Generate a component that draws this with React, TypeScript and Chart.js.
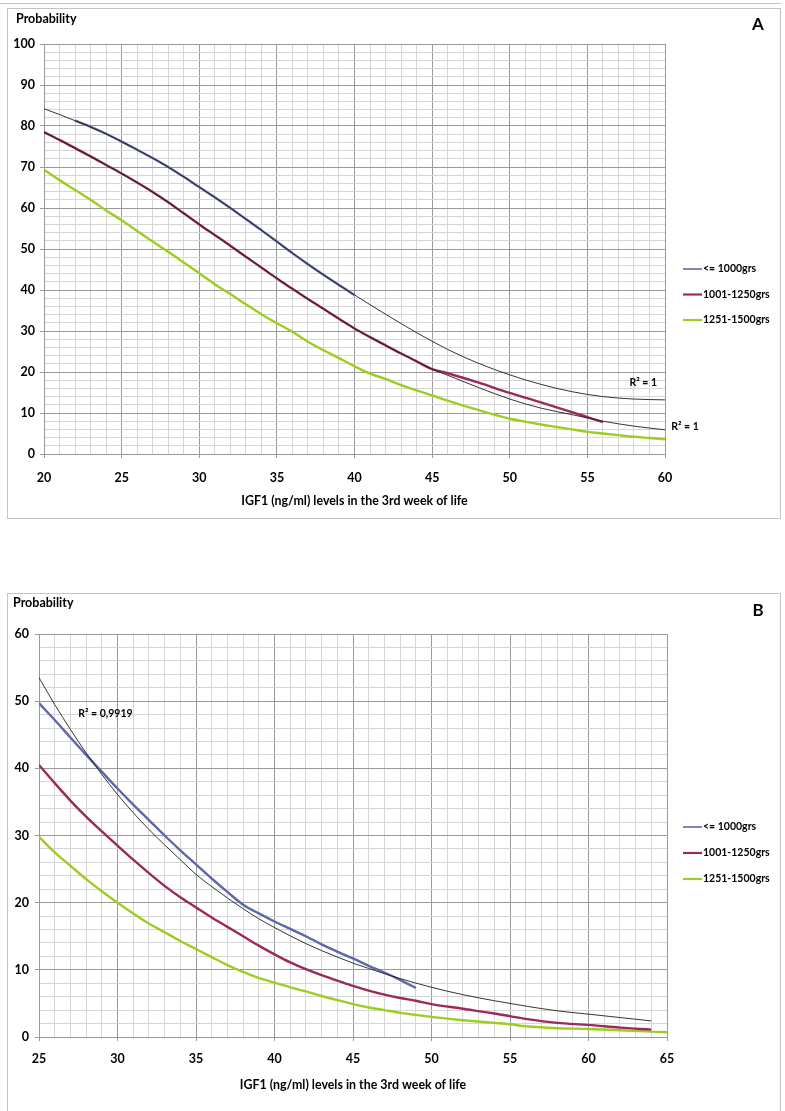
import React, { useEffect, useRef } from 'react';
import { Chart, registerables } from 'chart.js';

Chart.register(...registerables);

// ---------------- Shared ----------------
const SERIES_LABELS = ['<= 1000grs', '1001-1250grs', '1251-1500grs'];
const X_TITLE = 'IGF1 (ng/ml) levels in the 3rd week of life';
const Y_TITLE = 'Probability';

// ---------------- Panel A data ----------------
const A_X_RANGE = [20, 60];
const A_Y_RANGE = [0, 100];

const A_BLUE_X = [22, 23, 24, 25, 26, 27, 28, 29, 30, 31, 32, 33, 34, 35, 36, 37, 38, 39, 40];
const A_BLUE_Y = [81.3, 79.8, 78.1, 76.2, 74.2, 72.2, 70.0, 67.6, 65.1, 62.6, 60.0, 57.3, 54.6, 51.8, 49.0, 46.3, 43.7, 41.2, 38.8];

const A_BLUE_FIT_X = [20, 21, 22, 24, 26, 28, 30, 32, 34, 36, 38, 40, 42, 44, 46, 48, 50, 52, 54, 56, 58, 60];
const A_BLUE_FIT_Y = [84.2, 82.8, 81.3, 78.1, 74.2, 70.0, 65.1, 60.0, 54.6, 49.0, 43.7, 38.8, 34.1, 29.6, 25.5, 22.1, 19.3, 17.0, 15.2, 14.0, 13.4, 13.2];

const A_RED_X = [20, 21, 22, 23, 24, 25, 26, 27, 28, 29, 30, 31, 32, 33, 34, 35, 36, 37, 38, 39, 40, 41, 42, 43, 44, 45, 46, 48, 50, 52, 54, 55, 56];
const A_RED_Y = [78.5, 76.6, 74.6, 72.6, 70.5, 68.4, 66.2, 63.9, 61.4, 58.7, 56.0, 53.4, 50.8, 48.1, 45.5, 42.8, 40.3, 37.8, 35.4, 33.0, 30.6, 28.5, 26.5, 24.5, 22.6, 20.7, 19.7, 17.4, 14.9, 12.6, 10.2, 9.0, 7.8];

const A_RED_FIT_X = [20, 22, 24, 26, 28, 30, 32, 34, 36, 38, 40, 42, 44, 45, 46, 48, 50, 52, 54, 55, 56, 58, 60];
const A_RED_FIT_Y = [78.5, 74.6, 70.5, 66.2, 61.4, 56.0, 50.8, 45.5, 40.3, 35.4, 30.6, 26.5, 22.6, 20.7, 19.2, 16.2, 13.4, 11.2, 9.6, 8.8, 8.0, 6.8, 5.9];

const A_GREEN_X = [20, 21, 22, 23, 24, 25, 26, 27, 28, 29, 30, 31, 32, 33, 34, 35, 36, 37, 38, 39, 40, 41, 42, 43, 44, 45, 46, 47, 48, 49, 50, 51, 52, 53, 54, 55, 56, 57, 58, 59, 60];
const A_GREEN_Y = [69.3, 66.8, 64.4, 62.0, 59.4, 57.0, 54.4, 51.8, 49.3, 46.7, 44.1, 41.4, 39.0, 36.5, 34.1, 31.9, 29.8, 27.4, 25.3, 23.4, 21.4, 19.6, 18.3, 16.8, 15.5, 14.3, 13.0, 11.8, 10.7, 9.6, 8.6, 7.9, 7.2, 6.6, 6.0, 5.4, 5.0, 4.6, 4.2, 3.9, 3.6];

const A_R2_TEXT = ['R² = 1', 'R² = 1'];
const A_R2_X = [58.6, 60.4];
const A_R2_Y = [17.3, 6.6];

// ---------------- Panel B data ----------------
const B_X_RANGE = [25, 65];
const B_Y_RANGE = [0, 60];

const B_BLUE_X = [25, 26, 27, 28, 29, 30, 31, 32, 33, 34, 35, 36, 37, 38, 39, 40, 41, 42, 43, 44, 45, 46, 47, 48, 49];
const B_BLUE_Y = [49.7, 47.2, 44.6, 42.0, 39.5, 37.0, 34.6, 32.3, 30.0, 27.8, 25.7, 23.6, 21.6, 19.7, 18.4, 17.2, 16.1, 15.0, 13.8, 12.7, 11.7, 10.6, 9.6, 8.5, 7.3];

const B_BLUE_FIT_X = [25, 26, 27, 28, 29, 30, 31, 32, 33, 34, 35, 36, 37, 38, 39, 40, 42, 44, 45, 46, 48, 50, 52, 54, 55, 56, 58, 60, 62, 64];
const B_BLUE_FIT_Y = [53.5, 49.5, 45.8, 42.3, 39.1, 36.1, 33.4, 30.9, 28.6, 26.4, 24.2, 22.4, 20.7, 19.1, 17.6, 16.3, 13.9, 11.9, 11.0, 10.2, 8.7, 7.4, 6.3, 5.4, 5.0, 4.6, 3.9, 3.4, 2.9, 2.4];

const B_RED_X = [25, 26, 27, 28, 29, 30, 31, 32, 33, 34, 35, 36, 37, 38, 39, 40, 41, 42, 43, 44, 45, 46, 47, 48, 49, 50, 52, 54, 55, 56, 58, 60, 62, 64];
const B_RED_Y = [40.5, 37.8, 35.2, 32.8, 30.6, 28.5, 26.4, 24.4, 22.5, 20.8, 19.3, 17.8, 16.4, 15.0, 13.6, 12.3, 11.1, 10.1, 9.2, 8.4, 7.6, 6.9, 6.3, 5.8, 5.4, 4.9, 4.2, 3.5, 3.1, 2.7, 2.1, 1.8, 1.4, 1.1];

const B_GREEN_X = [25, 26, 27, 28, 29, 30, 31, 32, 33, 34, 35, 36, 37, 38, 39, 40, 41, 42, 43, 44, 45, 46, 47, 48, 50, 52, 54, 55, 56, 58, 60, 62, 64, 65];
const B_GREEN_Y = [29.8, 27.5, 25.5, 23.5, 21.7, 20.0, 18.4, 16.9, 15.6, 14.3, 13.1, 11.9, 10.7, 9.7, 8.8, 8.1, 7.4, 6.8, 6.1, 5.5, 4.9, 4.4, 4.0, 3.6, 3.0, 2.5, 2.1, 1.9, 1.6, 1.3, 1.2, 1.0, 0.8, 0.7];

const B_R2_TEXT = ['R² = 0,9919'];
const B_R2_X = [27.5];
const B_R2_Y = [48.1];

// ---------------- Styles ----------------
const BLUE = '#6067a9';
const RED = '#9b2a5c';
const GREEN = '#9fcc22';
const FIT = '#1e1e1e';
const MAJOR_GRID = '#9a9a9a';
const MINOR_GRID = '#d6d6d6';
const FONT = 'Lato, "Open Sans", Arial, sans-serif';

const pts = (xs: number[], ys: number[]) => xs.map((x, i) => ({ x, y: ys[i] }));

const decorPlugin = {
  id: 'decor',
  afterDraw(chart: any, _args: any, o: any) {
    const { ctx, chartArea, scales } = chart;
    ctx.save();
    ctx.fillStyle = '#000';
    ctx.textBaseline = 'middle';

    // axis title (top-left)
    ctx.font = `bold 12.5px ${FONT}`;
    ctx.textAlign = 'left';
    ctx.fillText(o.yTitle, o.yTitleX, o.yTitleY);

    // panel letter
    ctx.font = `bold 17px ${FONT}`;
    ctx.textAlign = 'center';
    ctx.fillText(o.letter, o.letterX, o.letterY);

    // x title
    ctx.font = `bold 12.4px ${FONT}`;
    ctx.textAlign = 'center';
    ctx.fillText(o.xTitle, (chartArea.left + chartArea.right) / 2, chartArea.bottom + o.xTitleGap);

    // R² labels positioned in data space
    ctx.font = `bold 10.5px ${FONT}`;
    o.r2.forEach((r: any) => {
      ctx.textAlign = r.align;
      ctx.fillText(r.text, scales.x.getPixelForValue(r.x), scales.y.getPixelForValue(r.y));
    });

    // legend
    ctx.font = `bold 10.5px ${FONT}`;
    ctx.textAlign = 'left';
    o.legend.forEach((l: any, i: number) => {
      const y = o.legendY + i * o.legendGap;
      ctx.strokeStyle = l.color;
      ctx.lineWidth = l.width;
      ctx.beginPath();
      ctx.moveTo(o.legendX, y);
      ctx.lineTo(o.legendX + 19, y);
      ctx.stroke();
      ctx.fillText(l.label, o.legendX + 20, y);
    });
    ctx.restore();
  },
};

type Series = { label: string; color: string; x: number[]; y: number[] };

function buildConfig(p: any) {
  const datasets: any[] = [];
  p.fits.forEach((f: any) => {
    datasets.push({
      label: 'fit',
      data: pts(f.x, f.y),
      borderColor: FIT,
      borderWidth: 0.9,
      pointRadius: 0,
      fill: false,
      cubicInterpolationMode: 'monotone',
      order: 0,
    });
  });
  p.series.forEach((s: Series) => {
    datasets.push({
      label: s.label,
      data: pts(s.x, s.y),
      borderColor: s.color,
      borderWidth: 2.4,
      pointRadius: 0,
      fill: false,
      cubicInterpolationMode: 'monotone',
      order: 1,
    });
  });

  const isMajor = (c: any, major: number) => c.tick && Math.abs(c.tick.value % major) < 1e-6;
  const gridColor = (major: number) => (c: any) => (isMajor(c, major) ? MAJOR_GRID : MINOR_GRID);
  const tickColor = (major: number) => (c: any) => (isMajor(c, major) ? MAJOR_GRID : 'rgba(0,0,0,0)');

  return {
    type: 'line',
    data: { datasets },
    options: {
      responsive: false,
      animation: false,
      events: [],
      layout: { padding: { left: 0, top: p.padTop, right: p.padRight, bottom: p.padBottom } },
      plugins: {
        legend: { display: false },
        tooltip: { enabled: false },
        title: { display: false },
        decor: p.decor,
      },
      scales: {
        x: {
          type: 'linear',
          min: p.xRange[0],
          max: p.xRange[1],
          afterFit: (s: any) => {
            s.height = p.xAxisH;
          },
          ticks: {
            stepSize: 1,
            maxTicksLimit: 500,
            autoSkip: false,
            maxRotation: 0,
            minRotation: 0,
            padding: p.xTickPad,
            color: '#000',
            font: { family: FONT, size: 12.5, weight: 'bold' },
            callback: (v: number) => (Math.abs(v % 5) < 1e-6 ? String(v) : ''),
          },
          grid: {
            color: gridColor(5),
            tickColor: tickColor(5),
            tickLength: 4,
            lineWidth: 1,
          },
          border: { color: MAJOR_GRID, width: 1 },
        },
        y: {
          type: 'linear',
          min: p.yRange[0],
          max: p.yRange[1],
          afterFit: (s: any) => {
            s.width = p.yAxisW;
          },
          ticks: {
            stepSize: 2,
            maxTicksLimit: 500,
            autoSkip: false,
            padding: p.yTickPad,
            color: '#000',
            font: { family: FONT, size: 12.5, weight: 'bold' },
            callback: (v: number) => (Math.abs(v % 10) < 1e-6 ? String(v) : ''),
          },
          grid: {
            color: gridColor(10),
            tickColor: tickColor(10),
            tickLength: 4,
            lineWidth: 1,
          },
          border: { color: MAJOR_GRID, width: 1 },
        },
      },
    },
    plugins: [decorPlugin],
  };
}

const legendItems = [
  { label: SERIES_LABELS[0], color: BLUE, width: 1.6 },
  { label: SERIES_LABELS[1], color: RED, width: 2.2 },
  { label: SERIES_LABELS[2], color: GREEN, width: 2.2 },
];

const PANEL_A = {
  xRange: A_X_RANGE,
  yRange: A_Y_RANGE,
  padTop: 44,
  padRight: 120,
  padBottom: 46,
  xAxisH: 40,
  yAxisW: 44,
  yTickPad: 5,
  xTickPad: 12,
  series: [
    { label: SERIES_LABELS[0], color: BLUE, x: A_BLUE_X, y: A_BLUE_Y },
    { label: SERIES_LABELS[1], color: RED, x: A_RED_X, y: A_RED_Y },
    { label: SERIES_LABELS[2], color: GREEN, x: A_GREEN_X, y: A_GREEN_Y },
  ],
  fits: [
    { x: A_BLUE_FIT_X, y: A_BLUE_FIT_Y },
    { x: A_RED_FIT_X, y: A_RED_FIT_Y },
  ],
  decor: {
    yTitle: Y_TITLE,
    yTitleX: 16,
    yTitleY: 19,
    letter: 'A',
    letterX: 758,
    letterY: 25,
    xTitle: X_TITLE,
    xTitleGap: 47,
    r2: A_R2_TEXT.map((t, i) => ({ text: t, x: A_R2_X[i], y: A_R2_Y[i], align: i === 0 ? 'center' : 'left' })),
    legend: legendItems,
    legendX: 683,
    legendY: 269,
    legendGap: 25.5,
  },
};

const PANEL_B = {
  xRange: B_X_RANGE,
  yRange: B_Y_RANGE,
  padTop: 74,
  padRight: 118,
  padBottom: 34,
  xAxisH: 40,
  yAxisW: 39,
  yTickPad: 6,
  xTickPad: 10,
  series: [
    { label: SERIES_LABELS[0], color: BLUE, x: B_BLUE_X, y: B_BLUE_Y },
    { label: SERIES_LABELS[1], color: RED, x: B_RED_X, y: B_RED_Y },
    { label: SERIES_LABELS[2], color: GREEN, x: B_GREEN_X, y: B_GREEN_Y },
  ],
  fits: [{ x: B_BLUE_FIT_X, y: B_BLUE_FIT_Y }],
  decor: {
    yTitle: Y_TITLE,
    yTitleX: 13,
    yTitleY: 43,
    letter: 'B',
    letterX: 758,
    letterY: 51,
    xTitle: X_TITLE,
    xTitleGap: 48,
    r2: B_R2_TEXT.map((t, i) => ({ text: t, x: B_R2_X[i], y: B_R2_Y[i], align: 'left' })),
    legend: legendItems,
    legendX: 683,
    legendY: 267,
    legendGap: 26,
  },
};

function ChartCanvas({ panel, top, height }: { panel: any; top: number; height: number }) {
  const ref = useRef<HTMLCanvasElement | null>(null);
  useEffect(() => {
    if (!ref.current) return;
    const chart = new Chart(ref.current, buildConfig(panel) as any);
    return () => chart.destroy();
  }, [panel]);
  return (
    <canvas
      ref={ref}
      width={785}
      height={height}
      style={{ position: 'absolute', left: 0, top, width: 785, height }}
    />
  );
}

export default function App() {
  return (
    <div
      style={{
        position: 'absolute',
        left: 0,
        top: 0,
        width: 785,
        height: 1111,
        overflow: 'hidden',
        background: '#fff',
      }}
    >
      <div style={{ position: 'absolute', left: 0, top: 3, width: 781, height: 1, background: '#c4c4c4' }} />
      <div
        style={{
          position: 'absolute',
          left: 7,
          top: 8,
          width: 772,
          height: 509,
          border: '1px solid #c4c4c4',
        }}
      />
      <div
        style={{
          position: 'absolute',
          left: 7,
          top: 593,
          width: 772,
          height: 600,
          border: '1px solid #c4c4c4',
        }}
      />
      <ChartCanvas panel={PANEL_A} top={0} height={540} />
      <ChartCanvas panel={PANEL_B} top={560} height={551} />
    </div>
  );
}
